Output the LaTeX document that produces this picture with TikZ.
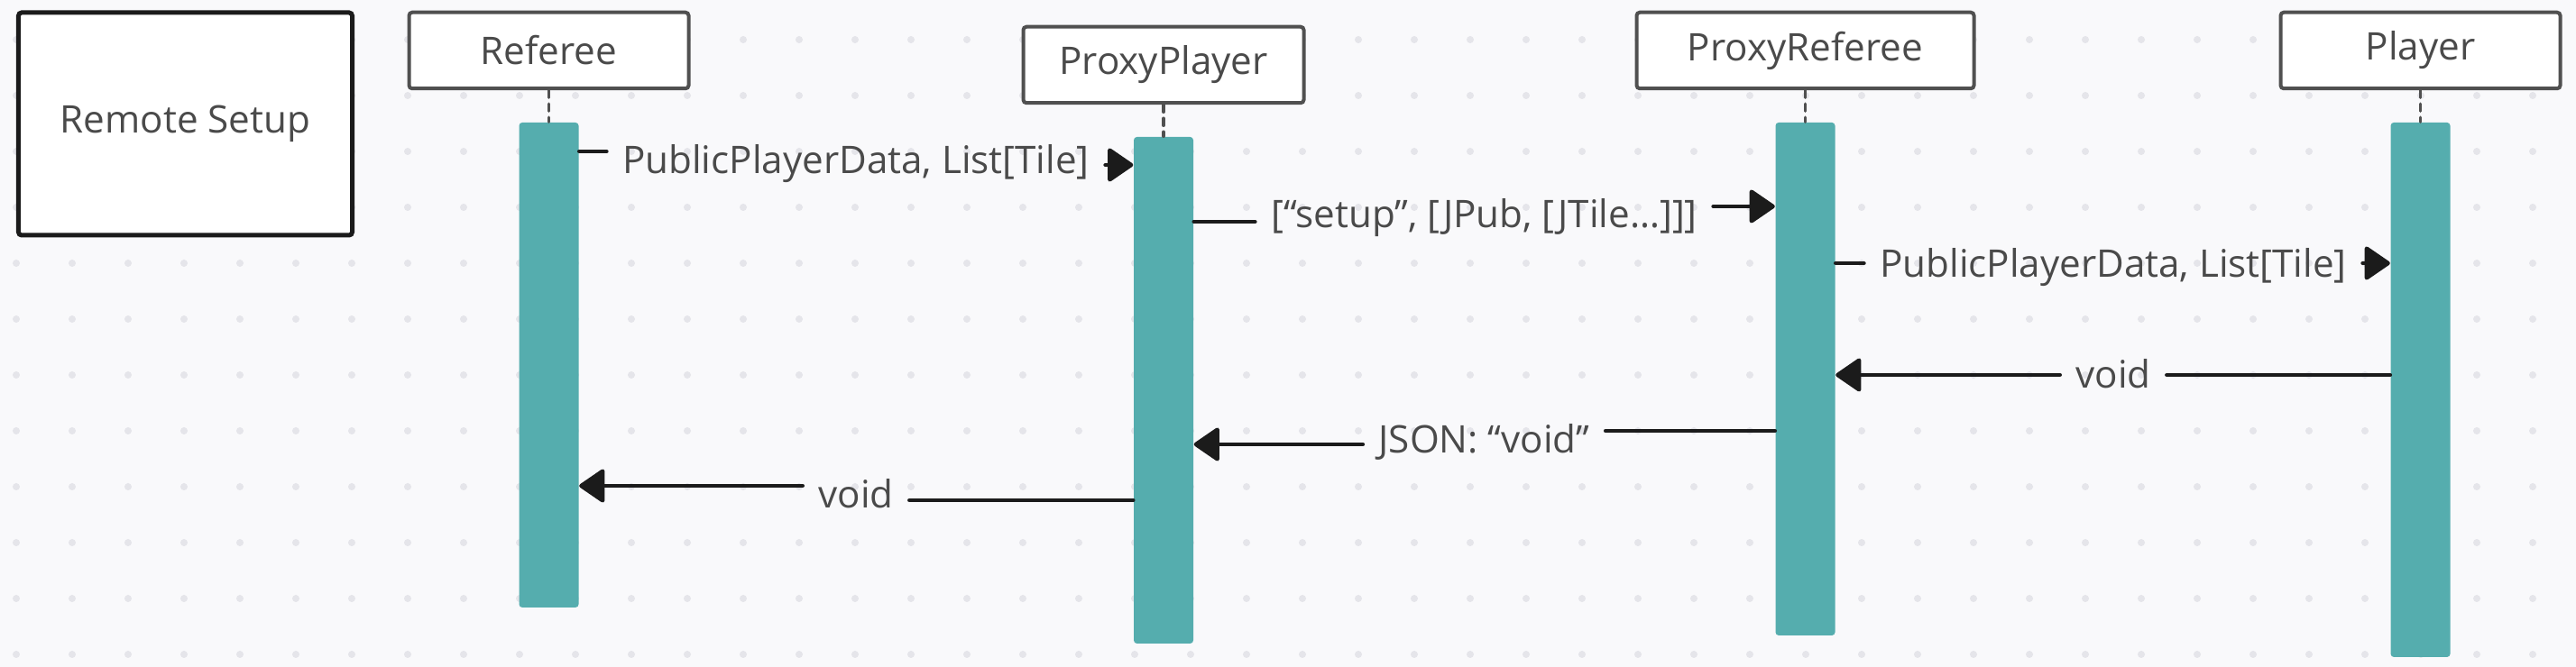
\documentclass[tikz,border=0pt]{standalone}
\usepackage{fontspec}
\setmainfont{Open Sans}
\usetikzlibrary{arrows.meta,positioning}
\definecolor{boardbg}{RGB}{249,249,251}
\definecolor{griddot}{RGB}{229,229,234}
\definecolor{boxline}{RGB}{80,80,80}
\definecolor{inkblack}{RGB}{27,27,27}
\definecolor{labelgray}{RGB}{74,74,74}
\definecolor{barteal}{RGB}{85,173,174}

\begin{document}
\begin{tikzpicture}[font=\fontsize{12}{14}\selectfont, text=labelgray,
      actor/.style={rectangle, draw=boxline, line width=0.04cm, fill=white, rounded corners=1pt,
                    minimum width=3.10cm, minimum height=0.845cm, inner sep=0pt},
      bar/.style={rectangle, fill=barteal, rounded corners=1pt, minimum width=0.66cm, inner sep=0pt},
      life/.style={draw=boxline, line width=0.035cm, line cap=round, dash pattern=on 0.08cm off 0.07cm},
      msg/.style={draw=inkblack, line width=0.045cm, line cap=round},
      tip/.style={msg, -{Triangle[length=0.30cm, width=0.40cm, round]}},
      lbl/.style={inner xsep=0.17cm, inner ysep=0pt, text height=0.30cm, text depth=0pt}]
    % board
    \fill[boardbg] (0,0) rectangle (28.56,-7.40);
    \useasboundingbox (0,0) rectangle (28.56,-7.40);
    \foreach \i in {0,...,45}
      \foreach \j in {0,...,11}
        \fill[griddot] (0.18+0.62*\i, -0.44-0.62*\j) circle (0.04cm);

    % title box
    \node[draw=inkblack, line width=0.05cm, fill=white, rounded corners=1pt,
          minimum width=3.70cm, minimum height=2.47cm] (setup) at (2.055,-1.375) {Remote Setup};

    % participants
    \node[actor] (ref) at (6.085,-0.56) {Referee};
    \node[actor, minimum width=3.11cm] (pp) at (12.90,-0.72) {ProxyPlayer};
    \node[actor, minimum width=3.74cm] (pr) at (20.015,-0.56) {ProxyReferee};
    \node[actor] (pl) at (26.835,-0.56) {Player};

    % activation bars
    \node[bar, minimum height=5.38cm, below=0.35cm of ref] (refbar) {};
    \node[bar, minimum height=5.62cm, below=0.35cm of pp]  (ppbar)  {};
    \node[bar, minimum height=5.69cm, below=0.35cm of pr]  (prbar)  {};
    \node[bar, minimum height=5.93cm, below=0.35cm of pl]  (plbar)  {};
    \foreach \a/\b in {ref/refbar, pp/ppbar, pr/prbar, pl/plbar}
      \draw[life] (\a) -- (\b);

    % calls
    \node[lbl] (m1) at (9.49,-1.775) {PublicPlayerData, List[Tile]};
    \draw[msg] (refbar.east |- 0,-1.68) -- (m1.west |- 0,-1.68);
    \draw[tip] (m1.east |- 0,-1.83) -- (ppbar.west |- 0,-1.83);

    \node[lbl] (m2) at (16.455,-2.375) {[“setup”, [JPub, [JTile…]]]};
    \draw[msg] (ppbar.east |- 0,-2.46) -- (m2.west |- 0,-2.46);
    \draw[tip] (m2.east |- 0,-2.29) -- (prbar.west |- 0,-2.29);

    \node[lbl] (m3) at (23.43,-2.925) {PublicPlayerData, List[Tile]};
    \draw[msg] (prbar.east |- 0,-2.92) -- (m3.west |- 0,-2.92);
    \draw[tip] (m3.east |- 0,-2.92) -- (plbar.west |- 0,-2.92);

    % returns
    \node[lbl] (m4) at (23.43,-4.16) {void};
    \draw[msg] (plbar.west |- 0,-4.16) -- (m4.east |- 0,-4.16);
    \draw[tip] (m4.west |- 0,-4.16) -- (prbar.east |- 0,-4.16);

    \node[lbl] (m5) at (16.455,-4.88) {JSON: “void”};
    \draw[msg] (prbar.west |- 0,-4.78) -- (m5.east |- 0,-4.78);
    \draw[tip] (m5.west |- 0,-4.93) -- (ppbar.east |- 0,-4.93);

    \node[lbl] (m6) at (9.49,-5.49) {void};
    \draw[msg] (ppbar.west |- 0,-5.55) -- (m6.east |- 0,-5.55);
    \draw[tip] (m6.west |- 0,-5.39) -- (refbar.east |- 0,-5.39);
  \end{tikzpicture}
\end{document}
